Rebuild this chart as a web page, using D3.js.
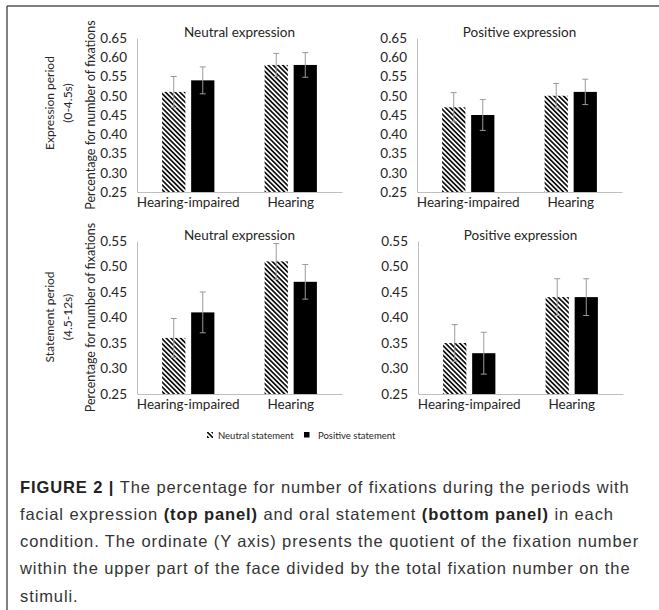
<!DOCTYPE html>
<html>
<head>
<meta charset="utf-8">
<title>Figure 2 - fixations</title>
<script src="https://d3js.org/d3.v7.min.js"></script>
<style>
  body { margin: 0; background: #fff; }
  svg { display: block; }
</style>
</head>
<body>
<svg id="chart" width="659" height="610"></svg>
<script>
// groups on the x axis and the two bar series
const groups = ["Hearing-impaired", "Hearing"];
const series = ["Neutral statement", "Positive statement"];

// tick values for the two rows
const topTicks = [0.25, 0.30, 0.35, 0.40, 0.45, 0.50, 0.55, 0.60, 0.65];
const bottomTicks = [0.25, 0.30, 0.35, 0.40, 0.45, 0.50, 0.55];

// means and error bars, [group][series]
const expNeutralMean = [[0.51, 0.54], [0.58, 0.58]];
const expNeutralErr = [[0.040, 0.035], [0.030, 0.032]];
const expPositiveMean = [[0.47, 0.45], [0.50, 0.51]];
const expPositiveErr = [[0.038, 0.040], [0.032, 0.033]];
const stmNeutralMean = [[0.36, 0.41], [0.51, 0.47]];
const stmNeutralErr = [[0.038, 0.040], [0.035, 0.034]];
const stmPositiveMean = [[0.35, 0.33], [0.44, 0.44]];
const stmPositiveErr = [[0.036, 0.041], [0.036, 0.036]];

const svg = d3.select("#chart");
const chartFont = "Lato, 'Open Sans', sans-serif";
const textCol = "#262626";

// hatch for the neutral statement bars
const defs = svg.append("defs");
defs.append("pattern")
  .attr("id", "hatch")
  .attr("patternUnits", "userSpaceOnUse")
  .attr("width", 3.4).attr("height", 3.4)
  .attr("patternTransform", "rotate(-45)")
  .append("rect")
  .attr("x", 0).attr("y", 0)
  .attr("width", 1.7).attr("height", 3.4)
  .attr("fill", "#111");

// frame lines of the figure box
svg.append("line").attr("x1", 7).attr("y1", 6).attr("x2", 659).attr("y2", 6)
  .attr("stroke", "#555").attr("stroke-width", 1.5);
svg.append("line").attr("x1", 7).attr("y1", 6).attr("x2", 7).attr("y2", 610)
  .attr("stroke", "#555").attr("stroke-width", 1.5);

function drawPanel(opt) {
  const { left, right, top, bottom, ticks, means, errs, title, yTitle } = opt;

  const x = d3.scaleBand().domain(groups).range([left, right])
    .paddingInner(0.49).paddingOuter(0.245);
  const xs = d3.scaleBand().domain(series).range([0, x.bandwidth()]).paddingInner(0.2);
  const y = d3.scaleLinear().domain([ticks[0], ticks[ticks.length - 1]]).range([bottom, top]);

  const g = svg.append("g");

  // y axis
  const yAxis = g.append("g")
    .attr("transform", "translate(" + left + ",0)")
    .call(d3.axisLeft(y).tickValues(ticks).tickFormat(d3.format(".2f")).tickSize(0).tickPadding(10));
  yAxis.select(".domain").attr("stroke", "#bfbfbf");
  yAxis.selectAll("text").attr("font-family", chartFont).attr("font-size", 13.5).attr("fill", textCol);

  // x axis
  const xAxis = g.append("g")
    .attr("transform", "translate(0," + bottom + ")")
    .call(d3.axisBottom(x).tickSize(0).tickPadding(5));
  xAxis.select(".domain").attr("stroke", "#bfbfbf");
  xAxis.selectAll("text").attr("font-family", chartFont).attr("font-size", 13.5).attr("fill", textCol)
    .attr("dy", "0.75em");

  // bars
  groups.forEach(function(gr, i) {
    series.forEach(function(s, j) {
      const bx = x(gr) + xs(s);
      const v = means[i][j];
      g.append("rect")
        .attr("x", bx).attr("y", y(v))
        .attr("width", xs.bandwidth()).attr("height", y(ticks[0]) - y(v))
        .attr("fill", j === 0 ? "url(#hatch)" : "#000");
    });
  });

  // error bars
  groups.forEach(function(gr, i) {
    series.forEach(function(s, j) {
      const cx = x(gr) + xs(s) + xs.bandwidth() / 2;
      const v = means[i][j], e = errs[i][j];
      const eb = g.append("g").attr("stroke", "#9a9a9a").attr("stroke-width", 1);
      eb.append("line").attr("x1", cx).attr("x2", cx).attr("y1", y(v + e)).attr("y2", y(v - e));
      eb.append("line").attr("x1", cx - 3).attr("x2", cx + 3).attr("y1", y(v + e)).attr("y2", y(v + e));
      eb.append("line").attr("x1", cx - 3).attr("x2", cx + 3).attr("y1", y(v - e)).attr("y2", y(v - e));
    });
  });

  // panel title
  g.append("text")
    .attr("x", (left + right) / 2).attr("y", top - 1)
    .attr("text-anchor", "middle")
    .attr("font-family", chartFont).attr("font-size", 13.5).attr("fill", textCol)
    .text(title);

  if (yTitle) {
    g.append("text")
      .attr("transform", "translate(" + (left - 42) + "," + ((top + bottom) / 2) + ") rotate(-90)")
      .attr("text-anchor", "middle")
      .attr("font-family", chartFont).attr("font-size", 12.5).attr("fill", textCol)
      .text(yTitle);
  }
}

drawPanel({ left: 137, right: 342, top: 38, bottom: 192, ticks: topTicks,
  means: expNeutralMean, errs: expNeutralErr, title: "Neutral expression",
  yTitle: "Percentage for number of fixations" });
drawPanel({ left: 417, right: 622, top: 38, bottom: 192, ticks: topTicks,
  means: expPositiveMean, errs: expPositiveErr, title: "Positive expression" });
drawPanel({ left: 137, right: 342, top: 241, bottom: 394, ticks: bottomTicks,
  means: stmNeutralMean, errs: stmNeutralErr, title: "Neutral expression",
  yTitle: "Percentage for number of fixations" });
drawPanel({ left: 418, right: 623, top: 241, bottom: 394, ticks: bottomTicks,
  means: stmPositiveMean, errs: stmPositiveErr, title: "Positive expression" });

// row labels
function rowLabel(cy, lines) {
  const t = svg.append("text")
    .attr("transform", "translate(54," + cy + ") rotate(-90)")
    .attr("text-anchor", "middle")
    .attr("font-family", chartFont).attr("font-size", 12).attr("fill", textCol);
  lines.forEach(function(l, i) {
    t.append("tspan").attr("x", 0).attr("dy", i === 0 ? 0 : "1.5em").text(l);
  });
}
rowLabel(103, ["Expression period", "(0-4.5s)"]);
rowLabel(317, ["Statement period", "(4.5-12s)"]);

// legend
const legend = svg.append("g").attr("font-family", chartFont).attr("font-size", 9.5).attr("fill", textCol);
legend.append("rect").attr("x", 207).attr("y", 432).attr("width", 6).attr("height", 6).attr("fill", "url(#hatch)");
legend.append("text").attr("x", 218).attr("y", 439).text(series[0]);
legend.append("rect").attr("x", 304).attr("y", 432).attr("width", 5.5).attr("height", 5.5).attr("fill", "#000");
legend.append("text").attr("x", 318).attr("y", 439).text(series[1]);

// caption
const captionLines = [
  [["FIGURE 2 | ", true], ["The percentage for number of fixations during the periods with", false]],
  [["facial expression ", false], ["(top panel)", true], [" and oral statement ", false], ["(bottom panel)", true], [" in each", false]],
  [["condition. The ordinate (Y axis) presents the quotient of the fixation number", false]],
  [["within the upper part of the face divided by the total fixation number on the", false]],
  [["stimuli.", false]]
];
const cap = svg.append("g")
  .attr("font-family", "'Liberation Sans', Arial, sans-serif")
  .attr("font-size", 16.5).attr("letter-spacing", 0.9).attr("fill", "#333");
captionLines.forEach(function(line, i) {
  const t = cap.append("text").attr("x", 20).attr("y", 492.5 + i * 27.3);
  line.forEach(function(part) {
    t.append("tspan").attr("font-weight", part[1] ? "bold" : "normal")
      .attr("fill", part[1] ? "#222" : "#333").text(part[0]);
  });
});
</script>
</body>
</html>
